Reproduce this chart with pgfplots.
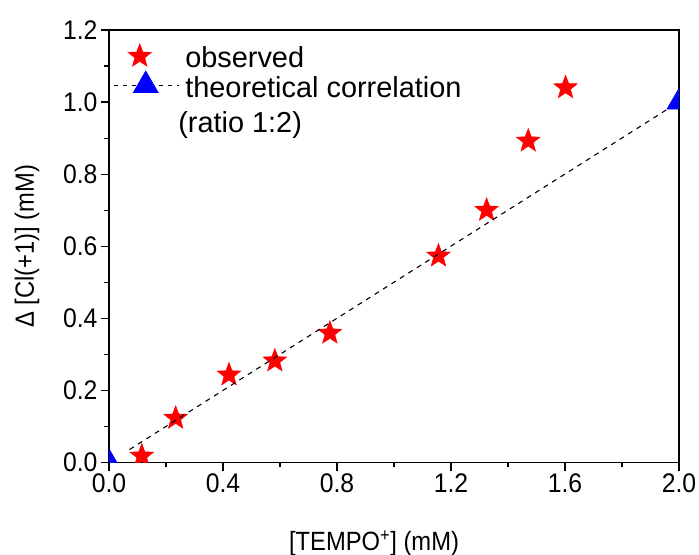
\documentclass[border=0pt]{standalone}
\usepackage{graphicx}
\usepackage{pgfplots}
\pgfplotsset{compat=1.18}
\usepackage{fontspec}
\setmainfont{Liberation Sans}
\pgfdeclareplotmark{fstar}{%
  \pgfpathmoveto{\pgfpointpolar{90}{\pgfplotmarksize}}%
  \pgfpathlineto{\pgfpointpolar{126}{0.42\pgfplotmarksize}}%
  \pgfpathlineto{\pgfpointpolar{162}{\pgfplotmarksize}}%
  \pgfpathlineto{\pgfpointpolar{198}{0.42\pgfplotmarksize}}%
  \pgfpathlineto{\pgfpointpolar{234}{\pgfplotmarksize}}%
  \pgfpathlineto{\pgfpointpolar{270}{0.42\pgfplotmarksize}}%
  \pgfpathlineto{\pgfpointpolar{306}{\pgfplotmarksize}}%
  \pgfpathlineto{\pgfpointpolar{342}{0.42\pgfplotmarksize}}%
  \pgfpathlineto{\pgfpointpolar{18}{\pgfplotmarksize}}%
  \pgfpathlineto{\pgfpointpolar{54}{0.42\pgfplotmarksize}}%
  \pgfpathclose
  \pgfusepathqfillstroke}
\begin{document}
\begin{tikzpicture}
\begin{axis}[name=ax, scale only axis, width=570bp, height=432.5bp,
  xmin=0, xmax=2, ymin=0, ymax=1.2,
  xtick={0,0.4,0.8,1.2,1.6,2.0}, ytick={0,0.2,0.4,0.6,0.8,1.0,1.2},
  minor x tick num=1, minor y tick num=1,
  tick pos=left, tick align=outside,
  major tick length=8bp, minor tick length=4.5bp,
  axis line style={line width=1.4bp},
  every tick/.style={line width=1.2bp, black},
  /pgf/number format/assume math mode=true,
  tick label style={font=\fontsize{27}{30}\selectfont},
  xticklabel style={/pgf/number format/.cd, fixed, fixed zerofill, precision=1},
  yticklabel style={/pgf/number format/.cd, fixed, fixed zerofill, precision=1},
  xticklabel={\scalebox{0.92}[1]{\pgfmathprintnumber{\tick}}},
  yticklabel={\scalebox{0.92}[1]{\pgfmathprintnumber{\tick}}},
  label style={font=\fontsize{26.5}{30}\selectfont},
  xlabel={\scalebox{0.9}[1]{[TEMPO\textsuperscript{+}] (mM)}},
  ylabel={\scalebox{0.9}[1]{Δ [Cl(+1)] (mM)}},
  xlabel style={at={(axis description cs:0.465,0)}, anchor=base, yshift=-87.5bp},
  ylabel style={at={(axis description cs:-0.1316,0.5)}, anchor=base},
  clip marker paths=true,
  legend image code/.code={\draw[mark repeat=2,mark phase=2,#1] plot coordinates {(0bp,0bp)(32bp,0bp)(65bp,0bp)};},
  legend image post style={yshift=2bp},
  legend style={at={(axis description cs:0,1)}, anchor=north west, draw=none, fill=none,
    font=\fontsize{29}{34}\selectfont, cells={anchor=base west, inner xsep=4bp, inner ysep=0pt},
    inner xsep=4bp, inner ysep=13.5bp, row sep=0pt, column sep=4bp},
  legend cell align=left,
]
\addplot[only marks, mark=fstar, mark size=12.5bp, draw=red, fill=red, forget plot] coordinates {
  (0.115,0.018) (0.234,0.123) (0.421,0.243) (0.582,0.282) (0.775,0.359)
  (1.156,0.573) (1.325,0.700) (1.471,0.892) (1.602,1.040)};
\addlegendimage{only marks, mark=fstar, mark size=12.5bp, draw=red, fill=red, xshift=-6bp}
\addlegendentry{observed}
\addplot[black, line width=1.1bp, dash pattern=on 5bp off 5bp, forget plot] coordinates {(0.072,0.036) (1.955,0.978)};
\addplot[only marks, mark=triangle*, mark size=14bp, draw=blue, fill=blue, forget plot] coordinates {(0,0) (2.0,1.0)};
\addlegendimage{black, line width=1.1bp, dash pattern=on 4bp off 5bp, mark=triangle*, mark size=14bp, mark options={solid, draw=blue, fill=blue}}
\addlegendentry{theoretical correlation}
\addlegendimage{empty legend}
\addlegendentry{\rule{0pt}{30bp}\hspace*{-7bp}(ratio 1:2)}
\end{axis}
\pgfresetboundingbox
\path (ax.south west) ++(-109bp,-92.5bp) rectangle ++(699bp,555bp);
\end{tikzpicture}
\end{document}
